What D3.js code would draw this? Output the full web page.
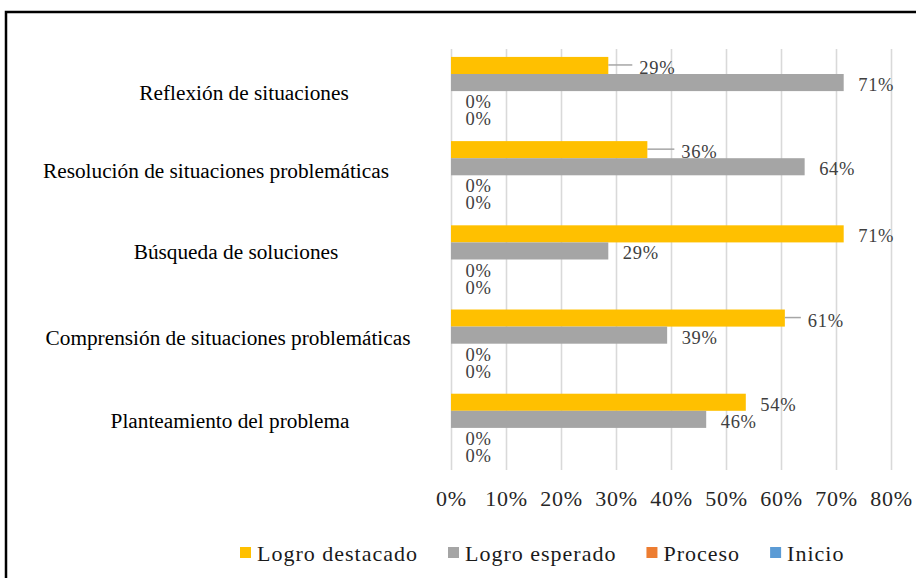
<!DOCTYPE html>
<html><head><meta charset="utf-8">
<script src="https://cdn.jsdelivr.net/npm/d3@7"></script>
<style>body{margin:0;background:#fff}svg{display:block}svg text{font-family:"Liberation Serif","Times New Roman",serif}</style>
</head><body>
<svg id="chart" width="916" height="578"></svg>
<script>
// ---- data ----
const categories = ["Reflexión de situaciones", "Resolución de situaciones problemáticas", "Búsqueda de soluciones", "Comprensión de situaciones problemáticas", "Planteamiento del problema"];
const seriesNames = ["Logro destacado", "Logro esperado", "Proceso", "Inicio"];
const logroDestacado = [28.6, 35.7, 71.4, 60.7, 53.6];
const logroEsperado = [71.4, 64.3, 28.6, 39.3, 46.4];
const proceso = [0, 0, 0, 0, 0];
const inicio = [0, 0, 0, 0, 0];
const xTicks = [0, 10, 20, 30, 40, 50, 60, 70, 80];

// ---- layout / style ----
const colors = ["#FFC000", "#A5A5A5", "#ED7D31", "#5B9BD5"];
const seriesValues = [logroDestacado, logroEsperado, proceso, inicio];
const table = categories.map((c, ci) => ({cat: c, ci, vals: seriesValues.map((s, si) => ({si, name: seriesNames[si], v: s[ci]}))}));

const svg = d3.select("#chart");
const x = d3.scaleLinear().domain([0, 80]).range([451, 891]);
const y = d3.scaleBand().domain(categories).range([49, 470]).padding(0);
const bw = y.bandwidth();
const inner = d3.scaleBand().domain(seriesNames).range([bw * 0.094, bw * 0.906]).padding(0);

// frame
svg.append("rect").attr("x", 6).attr("y", 12).attr("width", 1000).attr("height", 1000)
  .attr("fill", "none").attr("stroke", "#000").attr("stroke-width", 2.5);

// grid + axis
const axis = svg.append("g").attr("transform", "translate(0,470)")
  .call(d3.axisBottom(x).tickValues(xTicks).tickSize(-(470 - 49)).tickFormat(d => d + "%"));
axis.select(".domain").remove();
axis.attr("font-family", null).attr("font-size", null);
axis.selectAll(".tick line").attr("stroke", "#d9d9d9").attr("stroke-width", 1.6);
axis.selectAll(".tick text").attr("y", 28).attr("dy", "0.35em")
  .style("font-size", "22px").attr("letter-spacing", 0.8)
  .attr("fill", "#262626");

// bars
const groups = svg.append("g").selectAll("g").data(table).join("g")
  .attr("transform", d => `translate(0,${y(d.cat)})`);
groups.selectAll("rect").data(d => d.vals).join("rect")
  .attr("x", x(0)).attr("y", d => inner(d.name))
  .attr("width", d => x(d.v) - x(0)).attr("height", inner.bandwidth())
  .attr("fill", d => colors[d.si]);

// data labels
const labelNudge = {"0-0": {dx: 31, leader: true}, "1-0": {dx: 34, leader: true}, "3-0": {dx: 23, leader: true}};
groups.each(function(d) {
  const g = d3.select(this);
  d.vals.forEach(v => {
    const n = labelNudge[d.ci + "-" + v.si] || {dx: 14.5};
    const end = x(v.v);
    const cy = inner(v.name) + inner.bandwidth() / 2;
    if (n.leader) {
      g.append("line").attr("x1", end).attr("x2", end + n.dx - 7)
        .attr("y1", cy - 0.5).attr("y2", cy - 0.5)
        .attr("stroke", "#a6a6a6").attr("stroke-width", 1.5);
    }
    g.append("text").attr("x", end + n.dx).attr("y", cy + 2).attr("dy", "0.35em")
      .style("font-size", "18.5px").attr("letter-spacing", 0.7)
      .attr("fill", "#404040").text(Math.round(v.v) + "%");
  });
});

// category labels
const catNudge = [[14, 1], [-14, -5], [6, -7.5], [-2, -5.7], [0, -7]];
svg.append("g").selectAll("text").data(categories).join("text")
  .attr("x", (d, i) => 230 + catNudge[i][0])
  .attr("y", (d, i) => y(d) + bw / 2 + catNudge[i][1])
  .attr("dy", "0.35em").attr("text-anchor", "middle")
  .style("font-size", "21.3px").attr("fill", "#000")
  .text(d => d);

// legend
const leg = svg.append("g");
let lx = 240;
seriesNames.forEach((s, i) => {
  leg.append("rect").attr("x", lx).attr("y", 547).attr("width", 11).attr("height", 11).attr("fill", colors[i]);
  const t = leg.append("text").attr("x", lx + 17).attr("y", 553).attr("dy", "0.35em")
    .style("font-size", "22px").attr("letter-spacing", 1.0)
    .attr("fill", "#1a1a1a").text(s);
  lx += 17 + t.node().getComputedTextLength() + 30;
});
</script>
</body></html>
